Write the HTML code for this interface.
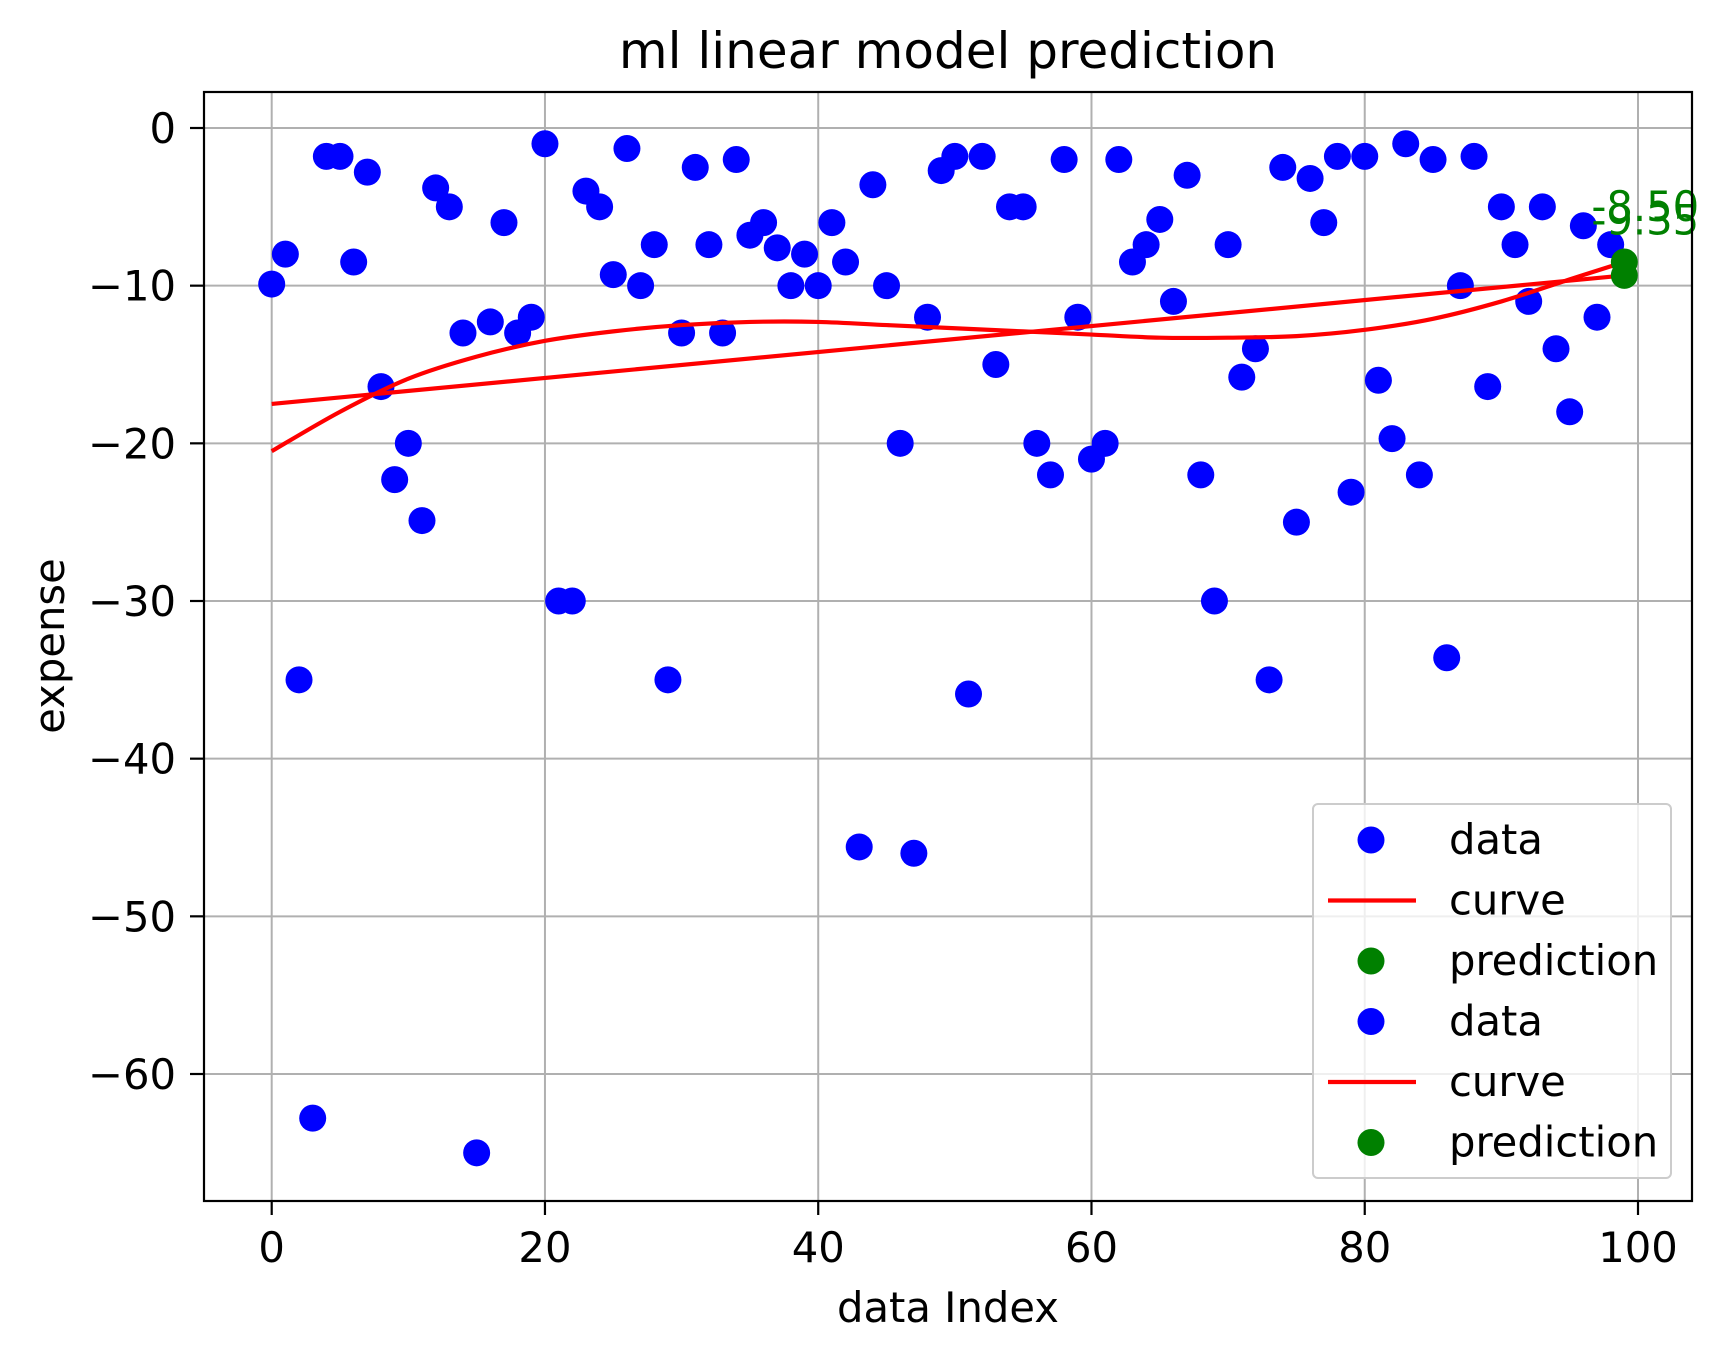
<!DOCTYPE html>
<html><head><meta charset="utf-8"><style>
html,body{margin:0;padding:0;background:#fff;}
svg{display:block;font-family:"DejaVu Sans","Liberation Sans",sans-serif;}
</style></head><body>
<svg id="chart" width="1728" height="1357" viewBox="0 0 1728 1357" xmlns="http://www.w3.org/2000/svg">
<rect width="1728" height="1357" fill="#fff"/>
<g id="grid"></g>
<g id="marks"></g>
<rect x="204" y="92" width="1488" height="1109" fill="none" stroke="#000" stroke-width="2.2"/>
<g id="ticks"></g>
<text x="948" y="68" font-size="50" text-anchor="middle">ml linear model prediction</text>
<text x="948" y="1322" font-size="41.7" text-anchor="middle">data Index</text>
<text x="64" y="646" font-size="41.7" text-anchor="middle" transform="rotate(-90 64 646)">expense</text>
<g id="legend"></g>
</svg>
<script>
const dataValues=[-9.9,-8,-35,-62.8,-1.8,-1.8,-8.5,-2.8,-16.4,-22.3,-20,-24.9,-3.8,-5,-13,-65,-12.3,-6,-13,-12,-1,-30,-30,-4,-5,-9.3,-1.3,-10,-7.4,-35,-13,-2.5,-7.4,-13,-2,-6.8,-6,-7.6,-10,-8,-10,-6,-8.5,-45.6,-3.6,-10,-20,-46,-12,-2.7,-1.8,-35.9,-1.8,-15,-5,-5,-20,-22,-2,-12,-21,-20,-2,-8.5,-7.4,-5.8,-11,-3,-22,-30,-7.4,-15.8,-14,-35,-2.5,-25,-3.2,-6,-1.8,-23.1,-1.8,-16,-19.7,-1,-22,-2,-33.6,-10,-1.8,-16.4,-5,-7.4,-11,-5,-14,-18,-6.2,-12,-7.4];
const linearX=[0,99];
const linearY=[-17.5,-9.35];
const curveX=[0,5,10,15,20,25,30,35,40,45,50,55,60,65,70,75,80,85,90,95,99];
const curveY=[-20.5,-18,-15.9,-14.5,-13.5,-12.9,-12.5,-12.3,-12.3,-12.5,-12.7,-12.9,-13.1,-13.3,-13.3,-13.2,-12.8,-12.1,-11,-9.6,-8.5];
const predX=[99,99];
const predY=[-8.5,-9.35];
const predLabels=["-8.50","-9.35"];
const xTicks=[0,20,40,60,80,100];
const yTicks=[0,-10,-20,-30,-40,-50,-60];
const yTickLabels=["0","\u221210","\u221220","\u221230","\u221240","\u221250","\u221260"];
const legendLabels=["data","curve","prediction","data","curve","prediction"];

const NS="http://www.w3.org/2000/svg";
const X=v=>271.7+v*13.663;
const Y=v=>128-v*(1074-128)/60;
const R=13.5, LW=4.2;
function mk(tag,attrs,parent){const e=document.createElementNS(NS,tag);for(const k in attrs)e.setAttribute(k,attrs[k]);parent.appendChild(e);return e;}
const grid=document.getElementById('grid'),marks=document.getElementById('marks'),ticks=document.getElementById('ticks'),legend=document.getElementById('legend');
xTicks.forEach(t=>{
  const g=mk('line',{x1:X(t),x2:X(t),y1:92,y2:1201,stroke:'#b0b0b0','stroke-width':2},grid);
  
  
  const tk=mk('line',{x1:X(t),x2:X(t),y1:1201,y2:1215,stroke:'#000','stroke-width':2.2},ticks);
  
  
  const tx=mk('text',{x:X(t),y:1262,'font-size':41.7,'text-anchor':'middle'},ticks);
  tx.textContent=t;
  
  
});
yTicks.forEach((t,i)=>{
  const g=mk('line',{x1:204,x2:1692,y1:Y(t),y2:Y(t),stroke:'#b0b0b0','stroke-width':2},grid);
  
  
  const tk=mk('line',{x1:190,x2:204,y1:Y(t),y2:Y(t),stroke:'#000','stroke-width':2.2},ticks);
  
  
  const tx=mk('text',{x:176,y:Y(t)+15,'font-size':41.7,'text-anchor':'end'},ticks);
  tx.textContent=yTickLabels[i];
  
  
});
dataValues.forEach((v,i)=>{
  const c=mk('circle',{cx:X(i),cy:Y(v),r:R,fill:'#0000ff'},marks);
  
  
});
const lin=mk('polyline',{points:linearX.map((x,i)=>X(x)+','+Y(linearY[i])).join(' '),fill:'none',stroke:'#ff0000','stroke-width':LW},marks);


function smooth(xs,ys){
  const p=xs.map((x,i)=>[X(x),Y(ys[i])]);
  let d='M'+p[0][0]+','+p[0][1];
  for(let i=0;i<p.length-1;i++){
    const p0=p[i-1]||p[i],p1=p[i],p2=p[i+1],p3=p[i+2]||p2;
    const c1=[p1[0]+(p2[0]-p0[0])/6,p1[1]+(p2[1]-p0[1])/6];
    const c2=[p2[0]-(p3[0]-p1[0])/6,p2[1]-(p3[1]-p1[1])/6];
    d+=' C'+c1[0]+','+c1[1]+' '+c2[0]+','+c2[1]+' '+p2[0]+','+p2[1];
  }
  return d;
}
const cur=mk('path',{d:smooth(curveX,curveY),fill:'none',stroke:'#ff0000','stroke-width':LW},marks);


predX.forEach((x,i)=>{
  const c=mk('circle',{cx:X(x),cy:Y(predY[i]),r:R,fill:'#008000'},marks);
  
  
  const t=mk('text',{x:X(x)-33,y:Y(predY[i])-41,'font-size':41.7,fill:'#008000'},marks);
  t.textContent=predLabels[i];
  
  
});
const lb=mk('rect',{x:1313,y:804,width:358,height:374,rx:5,fill:'#fff','fill-opacity':0.8,stroke:'#cccccc','stroke-width':2},legend);


legendLabels.forEach((l,i)=>{
  const y=840+i*60.5;
  if(l==='curve'){
    const m=mk('line',{x1:1328,x2:1416,y1:y,y2:y,stroke:'#ff0000','stroke-width':LW},legend);
    
    
  } else {
    const m=mk('circle',{cx:1371,cy:y,r:R,fill:l==='data'?'#0000ff':'#008000'},legend);
    
    
  }
  const t=mk('text',{x:1449,y:y+14,'font-size':41.7},legend);
  t.textContent=l;
  
  
});
</script>
</body></html>
